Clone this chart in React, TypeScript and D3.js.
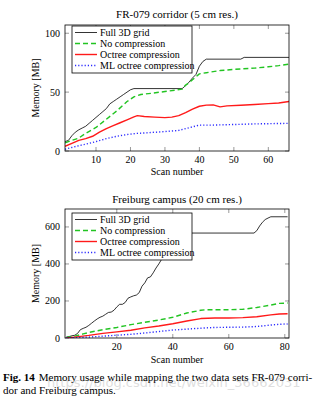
import React from "react";
import * as d3 from "d3";

// ---------- Data: FR-079 corridor ----------
const frFullScan = [1, 2, 3, 4, 5, 6, 7, 8, 9, 10, 11, 12, 13, 14, 15, 16, 17, 18, 19, 20, 21, 35, 36, 37, 38, 39, 40, 41, 42, 52, 53, 66];
const frFullVal = [8, 9, 13, 16, 18, 19.5, 21, 23.5, 26, 28.5, 31, 33.5, 36, 40, 42, 44, 46, 48, 50, 52, 53, 53, 55.5, 58.5, 62, 65, 72, 76, 78, 78, 79.5, 79.5];

const frNoCompScan = [1, 3, 5, 7, 10, 13, 16, 19, 21, 23, 26, 30, 35, 36, 37, 38, 39, 40, 42, 46, 50, 56, 60, 63, 66];
const frNoCompVal = [7, 9, 11, 15, 20, 27, 34, 42, 46, 48, 49, 50.5, 52.5, 56, 58, 60.5, 63, 65.5, 66.5, 68.3, 69.3, 70.4, 71.5, 72.5, 73.8];

const frOctScan = [1, 3, 5, 7, 9, 11, 13, 15, 17, 19, 21, 22, 24, 27, 30, 32, 34, 36, 38, 40, 42, 44, 46, 48, 52, 56, 60, 63, 66];
const frOctVal = [4, 6.5, 9, 10.5, 12.5, 16, 19, 21.5, 24, 26.5, 29, 30, 29.3, 28.8, 28.3, 28.8, 30, 32.5, 35.5, 38, 39, 39.2, 37.5, 38.3, 38.8, 39.5, 40.2, 40.8, 42];

const frMLScan = [1, 3, 5, 8, 10, 13, 16, 19, 22, 25, 30, 34, 36, 38, 40, 44, 50, 56, 60, 66];
const frMLVal = [1.5, 3, 4.5, 6.5, 8, 10.5, 12.5, 14, 15, 15.5, 16.5, 17.5, 19, 20.5, 22, 22, 22.5, 23, 23.2, 23.5];

// ---------- Data: Freiburg campus ----------
const fbFullScan = [2, 3, 4, 5, 6, 7, 8, 9, 10, 11, 12, 13, 14, 15, 16, 17, 18, 19, 20, 21, 22, 23, 24, 25, 26, 27, 28, 29, 30, 31, 32, 33, 34, 35, 36, 37, 38, 39, 40, 41, 42, 43, 69, 70, 71, 72, 73, 74, 75, 81];
const fbFullVal = [5, 8, 12, 15, 25, 45, 52, 58, 68, 80, 92, 103, 112, 118, 128, 138, 140, 150, 168, 182, 182, 192, 215, 222, 228, 232, 245, 280, 298, 325, 330, 352, 378, 400, 425, 450, 475, 500, 525, 548, 562, 567, 567, 580, 605, 625, 640, 648, 655, 655];

const fbNoCompScan = [2, 5, 8, 10, 15, 20, 25, 30, 35, 40, 45, 50, 52, 60, 65, 70, 75, 78, 81];
const fbNoCompVal = [3, 10, 22, 30, 45, 57, 72, 85, 97, 112, 135, 150, 153, 153, 155, 165, 178, 187, 189];

const fbOctScan = [2, 5, 10, 15, 20, 25, 30, 35, 40, 45, 50, 55, 60, 65, 70, 75, 78, 81];
const fbOctVal = [0, 5, 14, 25, 33, 42, 55, 65, 77, 92, 105, 108, 108, 110, 115, 125, 130, 131];

const fbMLScan = [2, 5, 10, 15, 20, 25, 30, 35, 40, 45, 50, 55, 60, 65, 70, 75, 78, 81];
const fbMLVal = [0, 2, 5, 10, 15, 20, 27, 35, 43, 48, 53, 57, 58, 59, 62, 70, 74, 76];

const legendLabels = ["Full 3D grid", "No compression", "Octree compression", "ML octree compression"];
const frTicksX = [10, 20, 30, 40, 50, 60];
const frTicksY = [0, 50, 100];
const fbTicksX = [20, 40, 60, 80];
const fbTicksY = [0, 200, 400, 600];

const seriesStyles = [
  { color: "#000000", width: 0.8, dash: "" },
  { color: "#22c422", width: 1.4, dash: "5 3" },
  { color: "#ff1a1a", width: 1.4, dash: "" },
  { color: "#2a2aff", width: 1.4, dash: "1.2 2" },
];

const FONT = "Liberation Serif, Times New Roman, serif";

type Series = { xs: number[]; ys: number[] };

function Chart(props: {
  top: number;
  bottom: number;
  xDomain: [number, number];
  yDomain: [number, number];
  xTicks: number[];
  yTicks: number[];
  series: Series[];
  title: string;
  titleY: number;
  xLabelY: number;
  legendTop: number;
}) {
  const left = 65;
  const right = 289;
  const x = d3.scaleLinear().domain(props.xDomain).range([left, right]);
  const y = d3.scaleLinear().domain(props.yDomain).range([props.bottom, props.top]);
  const tl = 4;
  const lineGen = (s: Series) =>
    d3
      .line<number>()
      .x((_, i) => x(s.xs[i]))
      .y((v) => y(v))(s.ys) || "";
  const lgLeft = 72;
  const lgRight = 192;
  const lgTop = props.legendTop;
  const lgH = 47;
  const rowH = 11;
  return (
    <g>
      <defs>
        <clipPath id={"clip" + props.top}>
          <rect x={left} y={props.top} width={right - left} height={props.bottom - props.top} />
        </clipPath>
      </defs>
      <text x={177} y={props.titleY} textAnchor="middle" fontFamily={FONT} fontSize={11} fill="#000">
        {props.title}
      </text>
      {props.xTicks.map((t) => (
        <g key={"xt" + t}>
          <line x1={x(t)} x2={x(t)} y1={props.bottom} y2={props.bottom - tl} stroke="#555" strokeWidth={0.6} />
          <line x1={x(t)} x2={x(t)} y1={props.top} y2={props.top + tl} stroke="#555" strokeWidth={0.6} />
          <text x={x(t)} y={props.bottom + 12} textAnchor="middle" fontFamily={FONT} fontSize={10} fill="#000">
            {t}
          </text>
        </g>
      ))}
      {props.yTicks.map((t) => (
        <g key={"yt" + t}>
          <line x1={left} x2={left + tl} y1={y(t)} y2={y(t)} stroke="#555" strokeWidth={0.6} />
          <line x1={right} x2={right - tl} y1={y(t)} y2={y(t)} stroke="#555" strokeWidth={0.6} />
          <text x={left - 5} y={y(t) + 3.5} textAnchor="end" fontFamily={FONT} fontSize={10} fill="#000">
            {t}
          </text>
        </g>
      ))}
      <g clipPath={`url(#clip${props.top})`}>
        {props.series.map((s, i) => (
          <path
            key={i}
            d={lineGen(s)}
            fill="none"
            stroke={seriesStyles[i].color}
            strokeWidth={seriesStyles[i].width}
            strokeDasharray={seriesStyles[i].dash}
            strokeLinejoin="round"
          />
        ))}
      </g>
      <rect x={left} y={props.top} width={right - left} height={props.bottom - props.top} fill="none" stroke="#000" strokeWidth={0.8} />
      <rect x={lgLeft} y={lgTop} width={lgRight - lgLeft} height={lgH} fill="#fff" stroke="#000" strokeWidth={0.8} />
      {legendLabels.map((lab, i) => {
        const cy = lgTop + 6.5 + i * rowH;
        return (
          <g key={lab}>
            <line
              x1={75}
              x2={97}
              y1={cy}
              y2={cy}
              stroke={seriesStyles[i].color}
              strokeWidth={seriesStyles[i].width}
              strokeDasharray={seriesStyles[i].dash}
            />
            <text x={100} y={cy + 3.5} fontFamily={FONT} fontSize={10} fill="#000">
              {lab}
            </text>
          </g>
        );
      })}
      <text
        transform={`translate(39,${(props.top + props.bottom) / 2}) rotate(-90)`}
        textAnchor="middle"
        fontFamily={FONT}
        fontSize={10}
        fill="#000"
      >
        Memory [MB]
      </text>
      <text x={177} y={props.xLabelY} textAnchor="middle" fontFamily={FONT} fontSize={10} fill="#000">
        Scan number
      </text>
    </g>
  );
}

export default function App() {
  return (
    <svg width={322} height={402} style={{ position: "absolute", left: 0, top: 0, background: "#fff" }}>
      <rect x={0} y={0} width={322} height={402} fill="#fff" />
      <Chart
        top={25}
        bottom={151}
        xDomain={[1, 66]}
        yDomain={[0, 107]}
        xTicks={frTicksX}
        yTicks={frTicksY}
        series={[
          { xs: frFullScan, ys: frFullVal },
          { xs: frNoCompScan, ys: frNoCompVal },
          { xs: frOctScan, ys: frOctVal },
          { xs: frMLScan, ys: frMLVal },
        ]}
        title="FR-079 corridor (5 cm res.)"
        titleY={18}
        xLabelY={175}
        legendTop={26}
      />
      <Chart
        top={209}
        bottom={338}
        xDomain={[1.5, 81.5]}
        yDomain={[0, 697]}
        xTicks={fbTicksX}
        yTicks={fbTicksY}
        series={[
          { xs: fbFullScan, ys: fbFullVal },
          { xs: fbNoCompScan, ys: fbNoCompVal },
          { xs: fbOctScan, ys: fbOctVal },
          { xs: fbMLScan, ys: fbMLVal },
        ]}
        title="Freiburg campus (20 cm res.)"
        titleY={203}
        xLabelY={363}
        legendTop={213}
      />
      <text x={47} y={387} fontFamily="DejaVu Sans, sans-serif" fontSize={13} fill="#c8c8c8" fillOpacity={0.6}>
        https://blog.csdn.net/weixin_36662031
      </text>
      <text x={3} y={381} fontFamily={FONT} fontSize={11} fill="#000">
        <tspan fontWeight="bold">Fig. 14</tspan>
        <tspan dx={4}>Memory usage while mapping the two data sets FR-079 corri-</tspan>
      </text>
      <text x={3} y={394} fontFamily={FONT} fontSize={11} fill="#000">
        dor and Freiburg campus.
      </text>
    </svg>
  );
}
